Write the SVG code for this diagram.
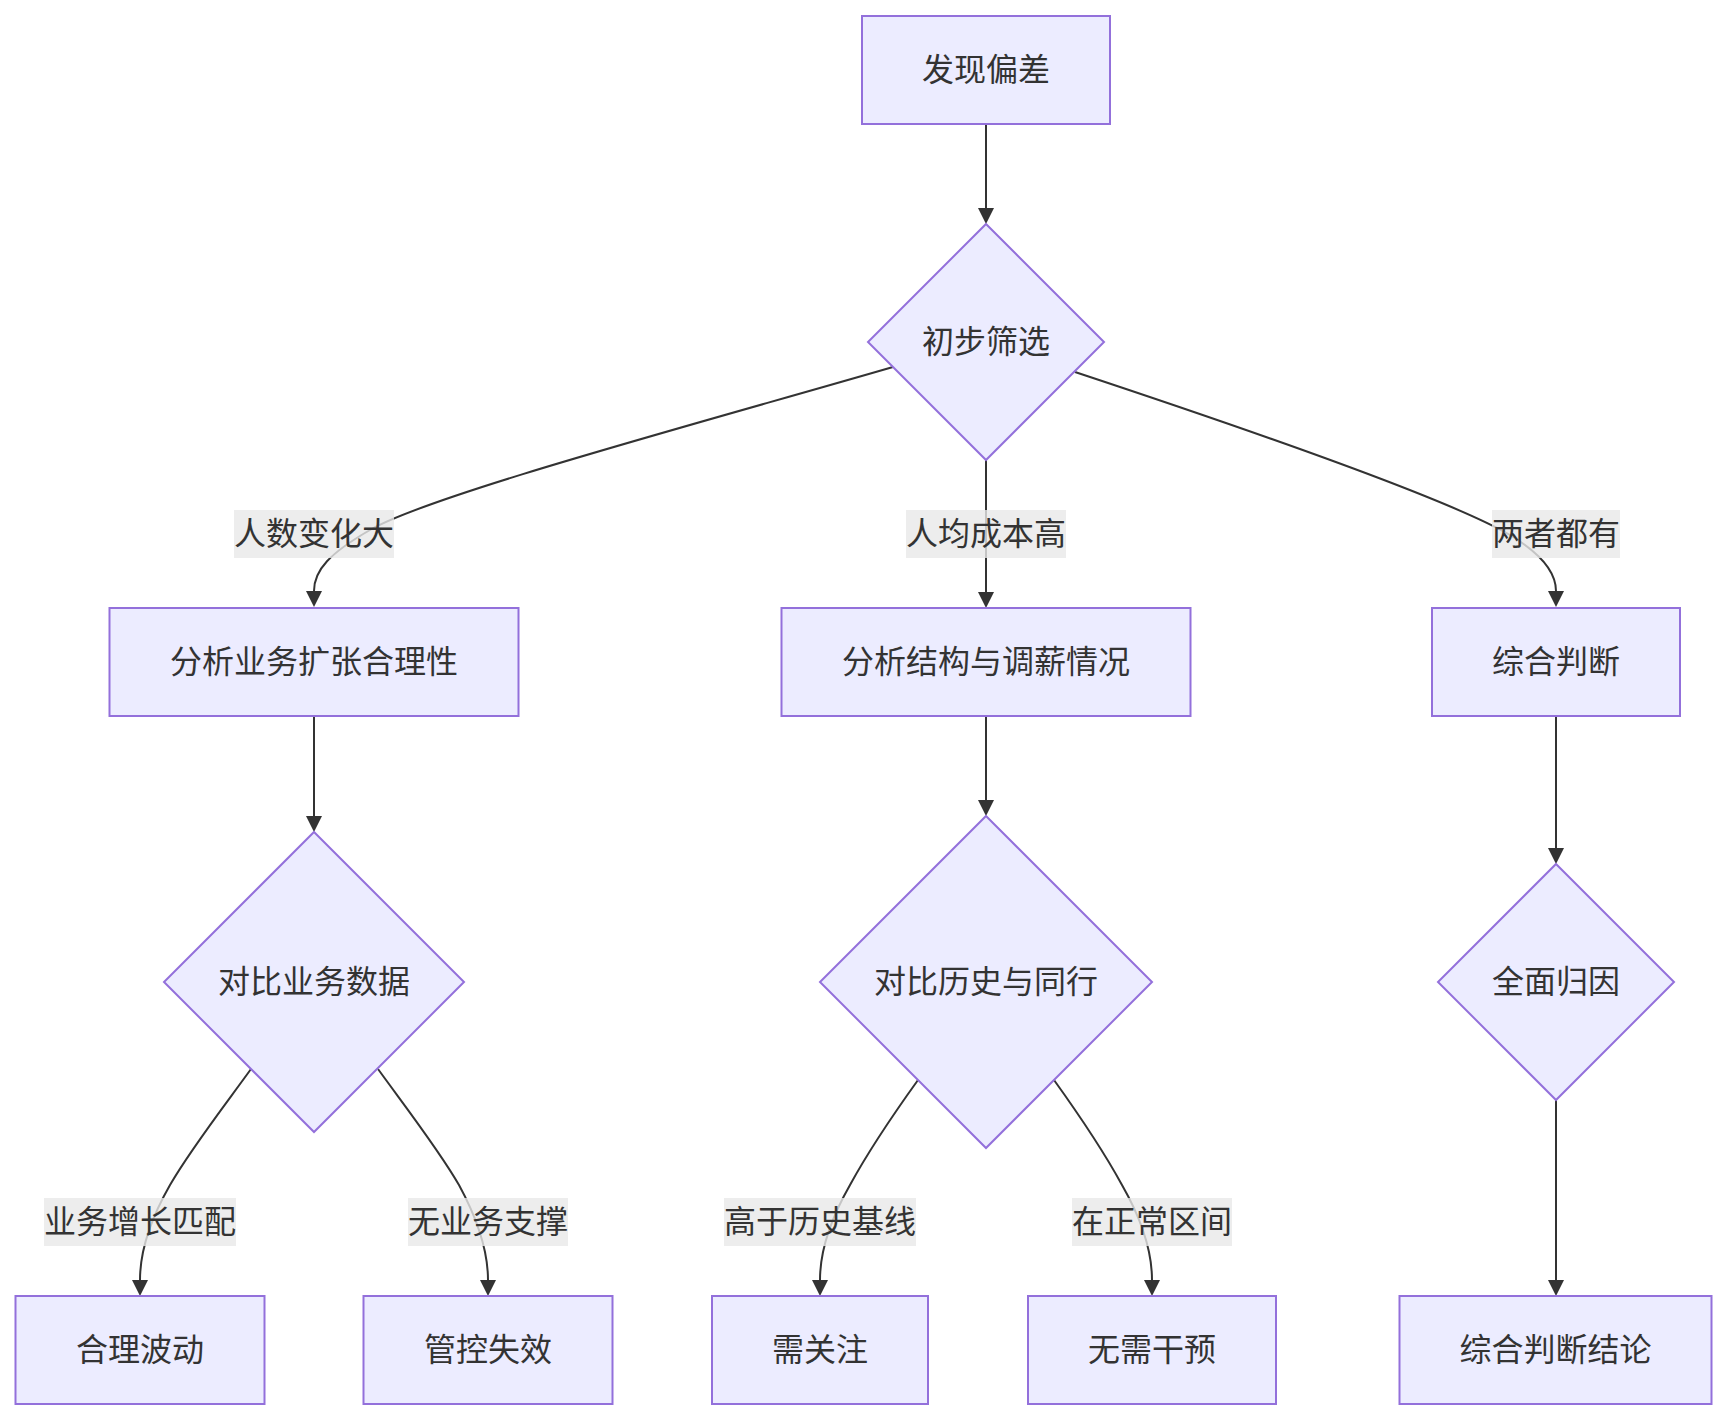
<svg xmlns="http://www.w3.org/2000/svg" width="1728" height="1420" viewBox="0 0 1728 1420">
<style>
.node rect, .node polygon { fill: #ECECFF; stroke: #9370DB; stroke-width: 2; }
.edge { fill: none; stroke: #333333; stroke-width: 2; }
.lbl { fill: rgba(232,232,232,0.8); }
text { font-family: "Noto Sans CJK SC", "Noto Sans", sans-serif; font-size: 32px; fill: #333333; text-anchor: middle; dominant-baseline: central; }
</style>
<defs>
<marker id="arrow" viewBox="0 0 16 16" refX="0" refY="8" markerWidth="16" markerHeight="16" markerUnits="userSpaceOnUse" orient="auto">
<path d="M0,0 L16,8 L0,16 z" fill="#333333"/>
</marker>
</defs>
<rect width="1728" height="1420" fill="#ffffff"/>
<g id="connectors">
<path class="edge" marker-end="url(#arrow)" d="M986,124 L986,208"/>
<path class="edge" marker-end="url(#arrow)" d="M893,367 C700,423 430,495 370,530 C330,553 314,570 314,591"/>
<path class="edge" marker-end="url(#arrow)" d="M986,460 L986,592"/>
<path class="edge" marker-end="url(#arrow)" d="M1075,372 C1250,430 1450,500 1510,535 C1545,556 1556,575 1556,591"/>
<path class="edge" marker-end="url(#arrow)" d="M314,716 L314,816"/>
<path class="edge" marker-end="url(#arrow)" d="M986,716 L986,800"/>
<path class="edge" marker-end="url(#arrow)" d="M1556,716 L1556,848"/>
<path class="edge" marker-end="url(#arrow)" d="M251,1069 C225,1105 190,1150 170,1185 C150,1220 140,1250 140,1280"/>
<path class="edge" marker-end="url(#arrow)" d="M378,1069 C404,1105 439,1150 459,1185 C478,1220 488,1250 488,1280"/>
<path class="edge" marker-end="url(#arrow)" d="M918,1080 C895,1112 868,1152 850,1185 C830,1220 820,1250 820,1280"/>
<path class="edge" marker-end="url(#arrow)" d="M1054,1080 C1077,1112 1104,1152 1122,1185 C1142,1220 1152,1250 1152,1280"/>
<path class="edge" marker-end="url(#arrow)" d="M1556,1100 L1556,1280"/>
<g id="edge-labels">
<rect class="lbl" x="234" y="510" width="160" height="48"/><text x="314" y="531">人数变化大</text>
<rect class="lbl" x="906" y="510" width="160" height="48"/><text x="986" y="531">人均成本高</text>
<rect class="lbl" x="1492" y="510" width="128" height="48"/><text x="1556" y="531">两者都有</text>
<rect class="lbl" x="44" y="1198" width="192" height="48"/><text x="140" y="1219">业务增长匹配</text>
<rect class="lbl" x="408" y="1198" width="160" height="48"/><text x="488" y="1219">无业务支撑</text>
<rect class="lbl" x="724" y="1198" width="192" height="48"/><text x="820" y="1219">高于历史基线</text>
<rect class="lbl" x="1072" y="1198" width="160" height="48"/><text x="1152" y="1219">在正常区间</text>
</g>
</g>
<g id="n-start" class="node"><rect x="862" y="16" width="248" height="108"/><text x="986" y="67">发现偏差</text></g>
<g id="n-screen" class="node"><polygon points="986,224 1104,342 986,460 868,342"/><text x="986" y="339">初步筛选</text></g>
<g id="n-biz" class="node"><rect x="109.5" y="608" width="409" height="108"/><text x="314" y="659">分析业务扩张合理性</text></g>
<g id="n-struct" class="node"><rect x="781.5" y="608" width="409" height="108"/><text x="986" y="659">分析结构与调薪情况</text></g>
<g id="n-both" class="node"><rect x="1432" y="608" width="248" height="108"/><text x="1556" y="659">综合判断</text></g>
<g id="n-cmpbiz" class="node"><polygon points="314,832 464,982 314,1132 164,982"/><text x="314" y="979">对比业务数据</text></g>
<g id="n-cmphist" class="node"><polygon points="986,816 1152,982 986,1148 820,982"/><text x="986" y="979">对比历史与同行</text></g>
<g id="n-attr" class="node"><polygon points="1556,864 1674,982 1556,1100 1438,982"/><text x="1556" y="979">全面归因</text></g>
<g id="n-ok" class="node"><rect x="15.5" y="1296" width="249" height="108"/><text x="140" y="1347">合理波动</text></g>
<g id="n-fail" class="node"><rect x="363.5" y="1296" width="249" height="108"/><text x="488" y="1347">管控失效</text></g>
<g id="n-watch" class="node"><rect x="712" y="1296" width="216" height="108"/><text x="820" y="1347">需关注</text></g>
<g id="n-none" class="node"><rect x="1028" y="1296" width="248" height="108"/><text x="1152" y="1347">无需干预</text></g>
<g id="n-final" class="node"><rect x="1399.5" y="1296" width="312" height="108"/><text x="1555.5" y="1347">综合判断结论</text></g>
</svg>
